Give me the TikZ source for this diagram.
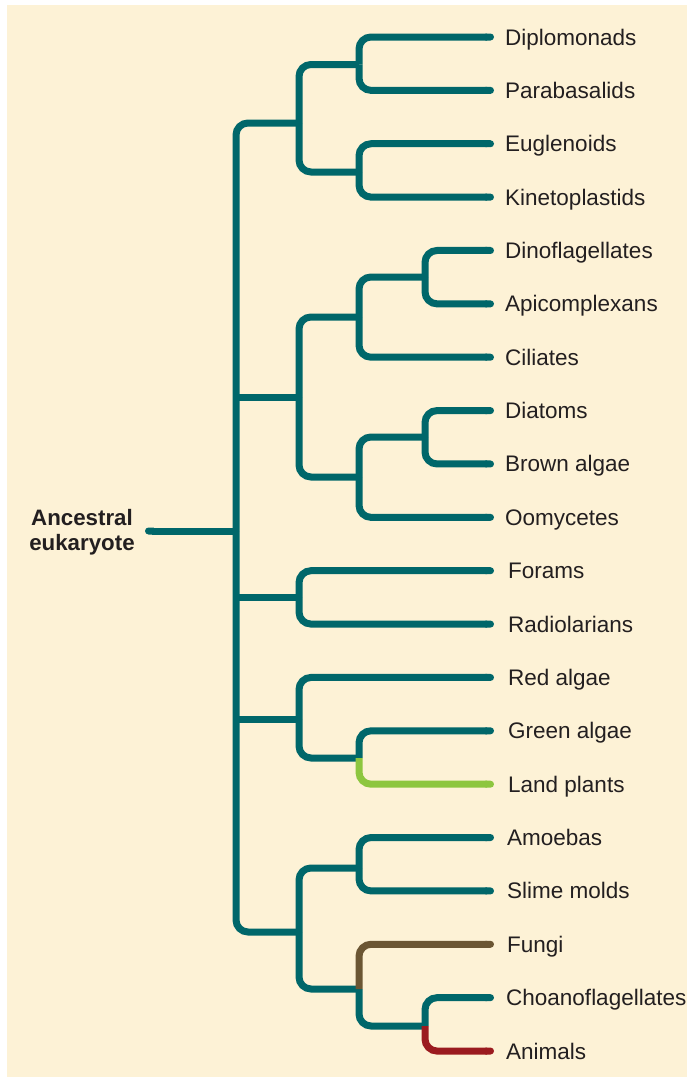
\documentclass[tikz,border=0pt]{standalone}
\usepackage{fontspec}
\setmainfont{Liberation Sans}
\usetikzlibrary{arrows.meta}
\definecolor{teal}{RGB}{0,103,106}
\definecolor{cream}{RGB}{253,242,214}
\definecolor{lgreen}{RGB}{141,198,63}
\definecolor{fbrown}{RGB}{107,86,51}
\definecolor{ared}{RGB}{155,27,31}
\definecolor{txt}{RGB}{35,31,32}
\begin{document}
\begin{tikzpicture}[x=1pt,y=-1pt,
  branch/.style={line width=7pt, draw=teal, rounded corners=12pt},
  leafline/.style={branch, -{Round Cap[]}},
  lbl/.style={anchor=base west, inner sep=0pt, font=\fontsize{22.5}{26}\selectfont, text=txt}]
\fill[white] (0,0) rectangle (687,1077);
\useasboundingbox (0,0) rectangle (687,1077);
\fill[cream] (7,5) rectangle (687,1077);

% leaves
\foreach \nm/\i/\lx/\tx in {
  Dip/0/505/Diplomonads, Par/1/505/Parabasalids, Eug/2/505/Euglenoids,
  Kin/3/505/Kinetoplastids, Din/4/505/Dinoflagellates, Api/5/505/Apicomplexans,
  Cil/6/505/Ciliates, Dia/7/505/Diatoms, Bro/8/505/Brown algae,
  Oom/9/505/Oomycetes, For/10/508/Forams, Rad/11/508/Radiolarians,
  Red/12/508/Red algae, Gre/13/508/Green algae, Lan/14/508/Land plants,
  Amo/15/507/Amoebas, Sli/16/507/Slime molds, Fun/17/507/Fungi,
  Cho/18/506/Choanoflagellates, Ani/19/506/Animals} {
  \coordinate (\nm) at (494,{37+53.37*\i});
  \node[lbl] (\nm-l) at (\lx,{45+53.37*\i}) {\tx};
}

% ancestor
\node[anchor=center, inner sep=0pt, align=center, text=txt,
  font=\fontsize{22.3}{24.5}\selectfont\bfseries] (anc) at (82,532) {Ancestral\\eukaryote};
\coordinate (a0) at (145,531);

% junctions
\coordinate (R) at (236,531);
\coordinate (r2) at (236,397);
\coordinate (r3) at (236,597);
\coordinate (r4) at (236,719);
\coordinate (g1) at (299,123);
\coordinate (g2) at (299,397);
\coordinate (g3) at (299,597);
\coordinate (g4) at (299,719);
\coordinate (g5) at (299,932);
\coordinate (s1) at (359,64.5);
\coordinate (s2) at (359,172);
\coordinate (s3) at (359,317);
\coordinate (s4) at (359,477);
\coordinate (s5) at (359,758);
\coordinate (s6) at (359,868);
\coordinate (s7) at (359,989);
\coordinate (t1) at (425,277);
\coordinate (t2) at (425,437);
\coordinate (t3) at (425,1026);

% root
\draw[branch, {Round Cap[]}-] (a0) -- (R);
\draw[branch] (R) |- (g1);
\draw[branch] (R) |- (g5);
\draw[branch] (r2) -- (g2);
\draw[branch] (r3) -- (g3);
\draw[branch] (r4) -- (g4);

% group 1
\draw[branch] (g1) |- (s1);
\draw[branch] (g1) |- (s2);
\draw[leafline] (s1) |- (Dip);
\draw[leafline] (s1) |- (Par);
\draw[leafline] (s2) |- (Eug);
\draw[leafline] (s2) |- (Kin);

% group 2
\draw[branch] (g2) |- (s3);
\draw[branch] (g2) |- (s4);
\draw[branch] (s3) |- (t1);
\draw[leafline] (s3) |- (Cil);
\draw[leafline] (t1) |- (Din);
\draw[leafline] (t1) |- (Api);
\draw[branch] (s4) |- (t2);
\draw[leafline] (s4) |- (Oom);
\draw[leafline] (t2) |- (Dia);
\draw[leafline] (t2) |- (Bro);

% group 3
\draw[leafline] (g3) |- (For);
\draw[leafline] (g3) |- (Rad);

% group 4
\draw[leafline] (g4) |- (Red);
\draw[branch] (g4) |- (s5);
\draw[leafline] (s5) |- (Gre);

% group 5
\draw[branch] (g5) |- (s6);
\draw[branch] (g5) |- (s7);
\draw[leafline] (s6) |- (Amo);
\draw[leafline] (s6) |- (Sli);
\draw[branch] (s7) |- (t3);
\draw[leafline] (t3) |- (Cho);

% coloured lineages
\draw[leafline, draw=lgreen] (s5) |- (Lan);
\draw[leafline, draw=fbrown] (s7) |- (Fun);
\draw[leafline, draw=ared] (t3) |- (Ani);
\end{tikzpicture}
\end{document}
